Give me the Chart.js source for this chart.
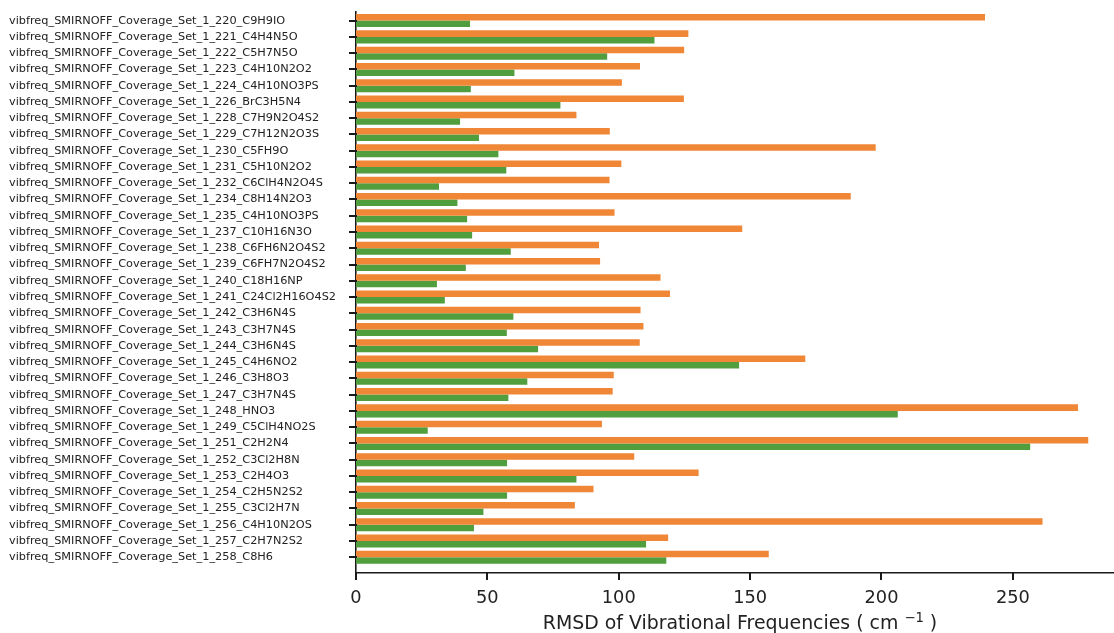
<!DOCTYPE html>
<html lang="en">
<head>
  <meta charset="UTF-8" />
  <title>RMSD of Vibrational Frequencies</title>
  <style>
    html, body {
      margin: 0;
      padding: 0;
      background: #fff;
    }
    #wrap {
      width: 1114px;
      height: 633px;
      position: relative;
    }
  </style>
</head>
<body>
  <div id="wrap"><canvas id="rmsdChart"></canvas></div>

  <script src="https://cdn.jsdelivr.net/npm/chart.js"></script>
  <script>
    // molecules, top to bottom
    const molecules = [
      'vibfreq_SMIRNOFF_Coverage_Set_1_220_C9H9IO',
      'vibfreq_SMIRNOFF_Coverage_Set_1_221_C4H4N5O',
      'vibfreq_SMIRNOFF_Coverage_Set_1_222_C5H7N5O',
      'vibfreq_SMIRNOFF_Coverage_Set_1_223_C4H10N2O2',
      'vibfreq_SMIRNOFF_Coverage_Set_1_224_C4H10NO3PS',
      'vibfreq_SMIRNOFF_Coverage_Set_1_226_BrC3H5N4',
      'vibfreq_SMIRNOFF_Coverage_Set_1_228_C7H9N2O4S2',
      'vibfreq_SMIRNOFF_Coverage_Set_1_229_C7H12N2O3S',
      'vibfreq_SMIRNOFF_Coverage_Set_1_230_C5FH9O',
      'vibfreq_SMIRNOFF_Coverage_Set_1_231_C5H10N2O2',
      'vibfreq_SMIRNOFF_Coverage_Set_1_232_C6ClH4N2O4S',
      'vibfreq_SMIRNOFF_Coverage_Set_1_234_C8H14N2O3',
      'vibfreq_SMIRNOFF_Coverage_Set_1_235_C4H10NO3PS',
      'vibfreq_SMIRNOFF_Coverage_Set_1_237_C10H16N3O',
      'vibfreq_SMIRNOFF_Coverage_Set_1_238_C6FH6N2O4S2',
      'vibfreq_SMIRNOFF_Coverage_Set_1_239_C6FH7N2O4S2',
      'vibfreq_SMIRNOFF_Coverage_Set_1_240_C18H16NP',
      'vibfreq_SMIRNOFF_Coverage_Set_1_241_C24Cl2H16O4S2',
      'vibfreq_SMIRNOFF_Coverage_Set_1_242_C3H6N4S',
      'vibfreq_SMIRNOFF_Coverage_Set_1_243_C3H7N4S',
      'vibfreq_SMIRNOFF_Coverage_Set_1_244_C3H6N4S',
      'vibfreq_SMIRNOFF_Coverage_Set_1_245_C4H6NO2',
      'vibfreq_SMIRNOFF_Coverage_Set_1_246_C3H8O3',
      'vibfreq_SMIRNOFF_Coverage_Set_1_247_C3H7N4S',
      'vibfreq_SMIRNOFF_Coverage_Set_1_248_HNO3',
      'vibfreq_SMIRNOFF_Coverage_Set_1_249_C5ClH4NO2S',
      'vibfreq_SMIRNOFF_Coverage_Set_1_251_C2H2N4',
      'vibfreq_SMIRNOFF_Coverage_Set_1_252_C3Cl2H8N',
      'vibfreq_SMIRNOFF_Coverage_Set_1_253_C2H4O3',
      'vibfreq_SMIRNOFF_Coverage_Set_1_254_C2H5N2S2',
      'vibfreq_SMIRNOFF_Coverage_Set_1_255_C3Cl2H7N',
      'vibfreq_SMIRNOFF_Coverage_Set_1_256_C4H10N2OS',
      'vibfreq_SMIRNOFF_Coverage_Set_1_257_C2H7N2S2',
      'vibfreq_SMIRNOFF_Coverage_Set_1_258_C8H6'
    ];

    // orange bars (upper bar of each pair)
    const rmsdOrange = [
      239.4, 126.5, 124.9, 108.1, 101.2, 124.8, 83.9, 96.6, 197.8, 101.0,
      96.5, 188.3, 98.4, 147.0, 92.5, 92.9, 115.9, 119.5, 108.3, 109.4,
      108.0, 171.0, 98.1, 97.7, 274.8, 93.6, 278.7, 105.9, 130.4, 90.4,
      83.3, 261.3, 118.8, 157.1
    ];

    // green bars (lower bar of each pair)
    const rmsdGreen = [
      43.4, 113.6, 95.6, 60.3, 43.7, 77.8, 39.6, 46.8, 54.2, 57.2,
      31.6, 38.6, 42.3, 44.2, 58.9, 41.8, 30.8, 33.8, 59.9, 57.4,
      69.3, 145.8, 65.2, 58.0, 206.2, 27.3, 256.6, 57.5, 83.9, 57.5,
      48.5, 44.9, 110.4, 118.1
    ];

    const xTicks = [0, 50, 100, 150, 200, 250];

    const axisColor = '#1a1a1a';
    const textColor = '#222';
    const tickLen = 7;

    // outward tick marks on both axes, placed by the scales
    const tickMarks = {
      id: 'tickMarks',
      afterDraw(chart) {
        const c = chart.ctx;
        const xs = chart.scales.x;
        const ys = chart.scales.y;
        const left = chart.chartArea.left;
        const bottom = chart.chartArea.bottom;
        c.save();
        c.fillStyle = axisColor;
        for (let i = 0; i < ys.ticks.length; i++) {
          const py = Math.round(ys.getPixelForValue(ys.ticks[i].value));
          c.fillRect(left - tickLen, py - 1, tickLen + 1, 2);
        }
        for (let i = 0; i < xs.ticks.length; i++) {
          const px = Math.round(xs.getPixelForValue(xs.ticks[i].value));
          c.fillRect(px - 1, bottom - 1, 2, tickLen + 1);
        }
        c.restore();
      }
    };

    // x axis title with a raised "-1"
    const unitTitle = {
      id: 'unitTitle',
      afterDraw(chart) {
        const c = chart.ctx;
        const main = 'RMSD of Vibrational Frequencies ( cm ';
        const sup = '\u22121';
        const tail = ' )';
        const big = '18.9px "DejaVu Sans"';
        const small = '13.2px "DejaVu Sans"';
        c.save();
        c.fillStyle = textColor;
        c.textBaseline = 'alphabetic';
        c.font = big;
        const w1 = c.measureText(main).width;
        const w3 = c.measureText(tail).width;
        c.font = small;
        const w2 = c.measureText(sup).width;
        const area = chart.chartArea;
        let x = (area.left + area.right) / 2 + 5 - (w1 + w2 + w3) / 2;
        const base = 629;
        c.textAlign = 'left';
        c.font = big;
        c.fillText(main, x, base);
        x += w1;
        c.font = small;
        c.fillText(sup, x, base - 7.5);
        x += w2;
        c.font = big;
        c.fillText(tail, x, base);
        c.restore();
      }
    };

    const ctx = document.getElementById('rmsdChart').getContext('2d');
    new Chart(ctx, {
      type: 'bar',
      data: {
        datasets: [
          {
            label: 'Set A',
            data: rmsdOrange.map((v, i) => ({ x: v, y: i })),
            backgroundColor: '#ef8737',
            borderWidth: 0
          },
          {
            label: 'Set B',
            data: rmsdGreen.map((v, i) => ({ x: v, y: i })),
            backgroundColor: '#509e3e',
            borderWidth: 0
          }
        ]
      },
      options: {
        indexAxis: 'y',
        responsive: true,
        maintainAspectRatio: false,
        animation: false,
        categoryPercentage: 0.8,
        barPercentage: 1.0,
        layout: { padding: { left: 9, top: 12, right: 0, bottom: 0 } },
        plugins: {
          legend: { display: false },
          tooltip: { enabled: false }
        },
        scales: {
          y: {
            type: 'linear',
            reverse: true,
            offset: false,
            min: -0.53,
            max: 33.97,
            afterBuildTicks: s => { s.ticks = molecules.map((m, i) => ({ value: i })); },
            afterFit: s => { s.width = 347; },
            grid: { display: false, drawTicks: false },
            border: { display: true, color: axisColor, width: 1.6 },
            ticks: {
              autoSkip: false,
              crossAlign: 'far',
              color: textColor,
              font: { family: 'DejaVu Sans', size: 11.3 },
              callback: v => molecules[v]
            }
          },
          x: {
            type: 'linear',
            min: 0,
            max: 288.5,
            afterBuildTicks: s => { s.ticks = xTicks.map(v => ({ value: v })); },
            afterFit: s => { s.height = 60; },
            grid: { display: false, drawTicks: false },
            border: { display: true, color: axisColor, width: 1.6 },
            ticks: {
              color: textColor,
              padding: 15,
              maxRotation: 0,
              font: { family: 'DejaVu Sans', size: 17.8 }
            },
            title: { display: false }
          }
        }
      },
      plugins: [tickMarks, unitTitle]
    });
  </script>
</body>
</html>
